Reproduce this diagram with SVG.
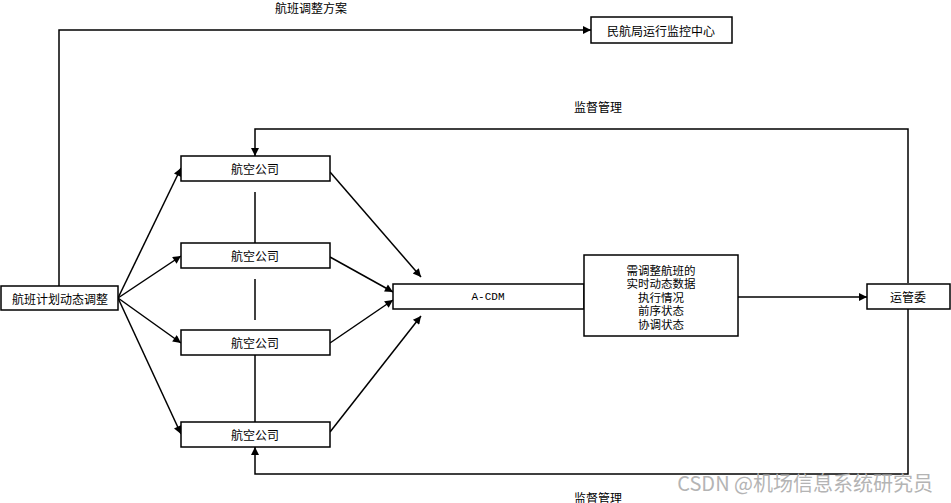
<svg xmlns="http://www.w3.org/2000/svg" width="951" height="503" viewBox="0 0 951 503">
<defs>
<marker id="arr" viewBox="0 0 10 10" refX="10" refY="5" markerWidth="10" markerHeight="8" markerUnits="userSpaceOnUse" orient="auto">
<path d="M0,0 L10,5 L0,10 z" fill="#000"/>
</marker>
<style>
.box{fill:#fff;stroke:#000;stroke-width:1.5}
.t{font-family:"Noto Sans CJK SC","Liberation Sans",sans-serif;font-size:12px;fill:#000;text-anchor:middle;dominant-baseline:central}
.d{font-family:"Noto Sans CJK SC","Liberation Sans",sans-serif;font-size:11.5px;fill:#000;text-anchor:middle;dominant-baseline:central}
.ln{fill:none;stroke:#000;stroke-width:1.5}
.a{marker-end:url(#arr)}
</style>
</defs>
<rect width="951" height="503" fill="#fff"/>
<g id="connectors">
<polyline class="ln a" points="59,286 59,30 591,30"/>
<line class="ln a" x1="118" y1="298" x2="181" y2="168"/>
<line class="ln a" x1="118" y1="298" x2="181" y2="256"/>
<line class="ln a" x1="118" y1="298" x2="181" y2="343"/>
<line class="ln a" x1="118" y1="298" x2="181" y2="434"/>
<line class="ln a" x1="330" y1="172" x2="421" y2="277"/>
<line class="ln a" x1="330" y1="257" x2="393" y2="292"/>
<line class="ln a" x1="330" y1="343" x2="393" y2="300"/>
<line class="ln a" x1="330" y1="432" x2="421" y2="316"/>
<line class="ln" x1="255" y1="192" x2="255" y2="243"/>
<line class="ln" x1="255" y1="279" x2="255" y2="320"/>
<line class="ln" x1="255" y1="355" x2="255" y2="422"/>
<line class="ln a" x1="738" y1="297" x2="867" y2="297"/>
<polyline class="ln a" points="908,283 908,129 255,129 255,156"/>
<polyline class="ln a" points="908,309 908,474 255,474 255,447"/>
</g>
<g id="n-plan"><rect class="box" x="1" y="286" width="117" height="24"/><text class="t" x="60" y="298">航班计划动态调整</text></g>
<g id="n-caac"><rect class="box" x="591" y="17" width="141" height="26"/><text class="t" x="661" y="30">民航局运行监控中心</text></g>
<g id="n-air1"><rect class="box" x="181" y="156" width="149" height="25"/><text class="t" x="255" y="168.5">航空公司</text></g>
<g id="n-air2"><rect class="box" x="181" y="243" width="149" height="25"/><text class="t" x="255" y="255.5">航空公司</text></g>
<g id="n-air3"><rect class="box" x="181" y="330" width="149" height="25"/><text class="t" x="255" y="342.5">航空公司</text></g>
<g id="n-air4"><rect class="box" x="181" y="422" width="149" height="25"/><text class="t" x="255" y="434.5">航空公司</text></g>
<g id="n-acdm"><rect class="box" x="393" y="284" width="191" height="25"/><text x="488" y="297" font-family="Liberation Mono,monospace" font-size="11" text-anchor="middle" dominant-baseline="central">A-CDM</text></g>
<g id="n-data"><rect class="box" x="584" y="255" width="154" height="81"/>
<text class="d" x="661" y="269.5">需调整航班的</text>
<text class="d" x="661" y="283">实时动态数据</text>
<text class="d" x="661" y="296.5">执行情况</text>
<text class="d" x="661" y="310">前序状态</text>
<text class="d" x="661" y="323.5">协调状态</text>
</g>
<g id="n-ops"><rect class="box" x="867" y="284" width="83" height="25"/><text class="t" x="908" y="296.5">运管委</text></g>
<g id="labels">
<text class="t" x="311" y="7">航班调整方案</text>
<text class="t" x="598" y="106">监督管理</text>
<text class="t" x="598" y="497">监督管理</text>
<text x="933" y="482" font-family="Noto Sans CJK SC,Liberation Sans,sans-serif" font-size="20" fill="#b4b4b4" text-anchor="end" dominant-baseline="central">CSDN @机场信息系统研究员</text>
</g>
</svg>
